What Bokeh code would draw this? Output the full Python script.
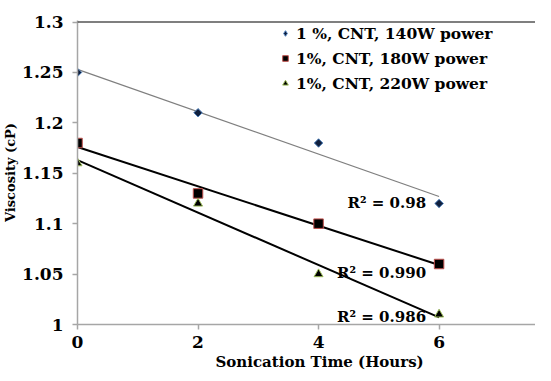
import numpy as np
from bokeh.plotting import figure
from bokeh.models import Range1d, Span, Label, FixedTicker, Legend, Title
from bokeh.embed import file_html
from bokeh.resources import INLINE

# ---- data ----
hours = [0, 2, 4, 6]
visc_140w = [1.25, 1.21, 1.18, 1.12]
visc_180w = [1.18, 1.13, 1.10, 1.06]
visc_220w = [1.16, 1.12, 1.05, 1.01]
series_names = ["1 %, CNT, 140W power", "1%, CNT, 180W power", "1%, CNT, 220W power"]
r2_labels = ["R² = 0.98", "R² = 0.990", "R² = 0.986"]
x_ticks = [0, 2, 4, 6]
y_ticks = [1.0, 1.05, 1.1, 1.15, 1.2, 1.25, 1.3]
y_tick_labels = ["1", "1.05", "1.1", "1.15", "1.2", "1.25", "1.3"]
x_title = "Sonication Time (Hours)"
y_title = "Viscosity (cP)"

FONT = "DejaVu Serif"

p = figure(width=535, height=371, output_backend="svg", toolbar_location=None,
           x_range=Range1d(0, 7.6), y_range=Range1d(1.0, 1.3015),
           min_border_left=69, min_border_right=0, min_border_top=20, min_border_bottom=47)
p.outline_line_color = None
p.xgrid.visible = False
p.ygrid.visible = False
p.background_fill_color = "white"
p.border_fill_color = "white"

# top border line of plot area
p.add_layout(Span(location=1.3, dimension="width", line_color="black", line_width=1.2))

# trendlines
styles = [("#7f7f7f", 1.2), ("black", 2), ("black", 2)]
all_series = [visc_140w, visc_180w, visc_220w]
xs = np.array(hours, dtype=float)
for ys, (col, lw) in zip(all_series, styles):
    m, b = np.polyfit(xs, np.array(ys), 1)
    p.line([xs[0], xs[-1]], [m * xs[0] + b, m * xs[-1] + b], line_color=col, line_width=lw)

# markers
p.scatter(hours, visc_140w, marker="square", angle=np.pi / 4, size=6,
          fill_color="#0f1f3d", line_color="#4f81bd", line_width=1)
r1 = p.scatter([np.nan], [np.nan], marker="diamond", size=10,
               fill_color="#0f1f3d", line_color="#4f81bd", line_width=1)
r2 = p.scatter(hours, visc_180w, marker="square", size=9.5,
               fill_color="black", line_color="#c0504d", line_width=1)
r3 = p.scatter(hours, visc_220w, marker="triangle", size=9,
               fill_color="black", line_color="#9bbb59", line_width=1)

legend = Legend(items=[(series_names[0], [r1]), (series_names[1], [r2]), (series_names[2], [r3])],
                location=(201, 231), orientation="vertical")
legend.glyph_width = 14
legend.glyph_height = 20
legend.label_height = 20
legend.label_standoff = 4
legend.spacing = 5
legend.padding = 0
legend.margin = 0
legend.border_line_color = None
legend.background_fill_alpha = 0
legend.label_text_font = FONT
legend.label_text_font_style = "bold"
legend.label_text_font_size = "15.5px"
legend.label_text_color = "black"
p.add_layout(legend)

# R² labels
offsets = [1, -9, -3]
for ys, txt, off in zip(all_series, r2_labels, offsets):
    p.add_layout(Label(x=hours[-1], y=ys[-1], text=txt, x_offset=-13, y_offset=off,
                       text_align="right", text_baseline="alphabetic",
                       text_font=FONT, text_font_style="bold", text_font_size="15px",
                       text_color="black"))

# x-axis title, as a title below the axis so it can sit right of the frame centre
p.add_layout(Title(text=x_title, align="left", offset=138, standoff=0,
                   text_font=FONT, text_font_style="bold", text_font_size="15px",
                   text_color="black"), "below")

# axes
for ax in (p.xaxis, p.yaxis):
    ax.axis_line_color = "#a6a6a6"
    ax.axis_line_width = 1.5
    ax.major_tick_line_color = "#a6a6a6"
    ax.major_tick_line_width = 1.5
    ax.major_tick_out = 5
    ax.major_tick_in = 0
    ax.minor_tick_line_color = None
    ax.major_label_text_font = FONT
    ax.major_label_text_font_style = "bold"
    ax.major_label_text_font_size = "17px"
    ax.major_label_text_color = "black"
    ax.axis_label_text_font = FONT
    ax.axis_label_text_font_style = "bold"
    ax.axis_label_text_color = "black"

p.xaxis.ticker = FixedTicker(ticks=x_ticks)
p.yaxis.ticker = FixedTicker(ticks=y_ticks)
p.yaxis.major_label_overrides = {t: l for t, l in zip(y_ticks, y_tick_labels)}
p.xaxis.major_label_standoff = 6
p.yaxis.major_label_standoff = 9
p.yaxis.axis_label = y_title
p.yaxis.axis_label_text_font_size = "13px"
p.yaxis.axis_label_standoff = 1

open("out.html", "w").write(file_html(p, INLINE))
